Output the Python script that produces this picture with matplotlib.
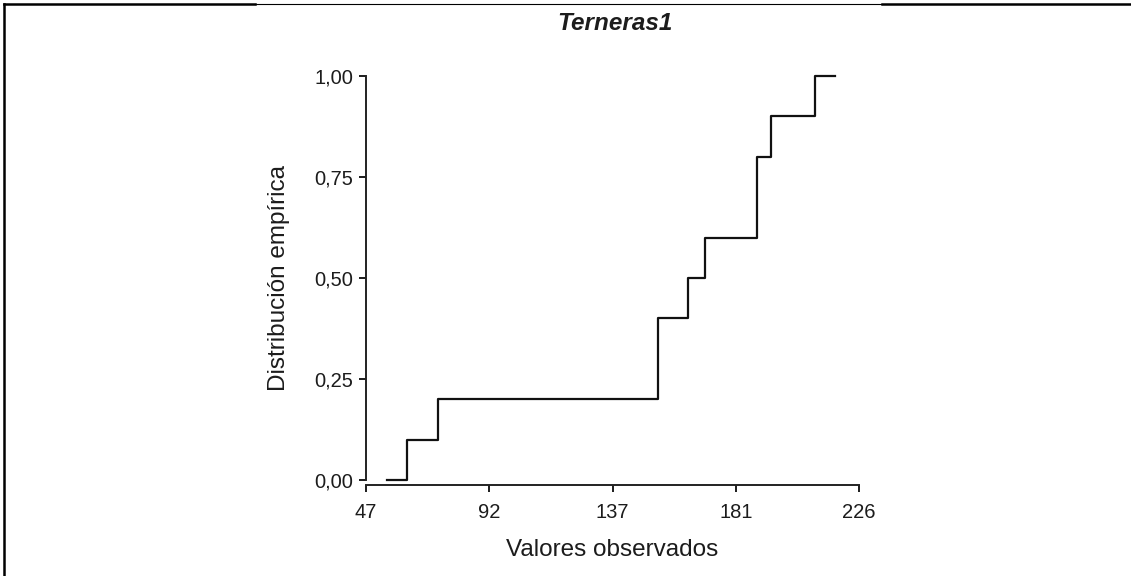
import numpy as np
import matplotlib
matplotlib.use('Agg')
import matplotlib.pyplot as plt
from matplotlib.lines import Line2D

plt.rcParams['font.family'] = ['Liberation Sans', 'DejaVu Sans']

# observed values (Terneras1), sorted
valores = [62, 73, 153, 153, 164, 170, 189, 189, 194, 210]
x_inicio = 54.6
x_fin = 217.4

x_ticks = [47, 91.75, 136.5, 181.25, 226]
x_ticklabels = ['47', '92', '137', '181', '226']
y_ticks = [0.0, 0.25, 0.5, 0.75, 1.0]
y_ticklabels = ['0,00', '0,25', '0,50', '0,75', '1,00']

n = len(valores)
F = np.arange(1, n + 1) / n
xs = np.concatenate([[x_inicio], valores, [x_fin]])
ys = np.concatenate([[0.0], F, [1.0]])

txt = '#1c1c1c'

fig = plt.figure(figsize=(11.31, 5.76), dpi=100)
ax = fig.add_axes([366/1131, 96/576, 493/1131, 404/576])

ax.step(xs, ys, where='post', color='#111111', lw=1.6, clip_on=False)

ax.set_xlim(47, 226)
ax.set_ylim(0, 1)
ax.set_xticks(x_ticks)
ax.set_xticklabels(x_ticklabels)
ax.set_yticks(y_ticks)
ax.set_yticklabels(y_ticklabels)

for s in ['top', 'right']:
    ax.spines[s].set_visible(False)
ax.spines['bottom'].set_position(('outward', 3.6))
for s in ['left', 'bottom']:
    ax.spines[s].set_linewidth(1.4)
    ax.spines[s].set_color('#222222')

ax.tick_params(axis='both', labelsize=14.5, colors=txt, width=1.4, length=5)
ax.tick_params(axis='x', pad=8)
ax.tick_params(axis='y', pad=4)

ax.set_xlabel('Valores observados', fontsize=17.5, color=txt, labelpad=12)
ax.set_ylabel('Distribución empírica', fontsize=17.5, color=txt, labelpad=18)

fig.text(615/1131, 1 - 23/576, 'Terneras1', ha='center', va='center',
         fontsize=17.5, fontweight='bold', fontstyle='italic', color=txt)

# page border around the figure
fig.add_artist(Line2D([4/1131, 4/1131], [0, 1 - 4/576], color='black', lw=1.8))
fig.add_artist(Line2D([4/1131, 255/1131], [1 - 4/576, 1 - 4/576], color='black', lw=1.8))
fig.add_artist(Line2D([255/1131, 882/1131], [1 - 4/576, 1 - 4/576], color='black', lw=0.8))
fig.add_artist(Line2D([882/1131, 1], [1 - 4/576, 1 - 4/576], color='black', lw=1.8))

fig.savefig('out.png', dpi=100)
